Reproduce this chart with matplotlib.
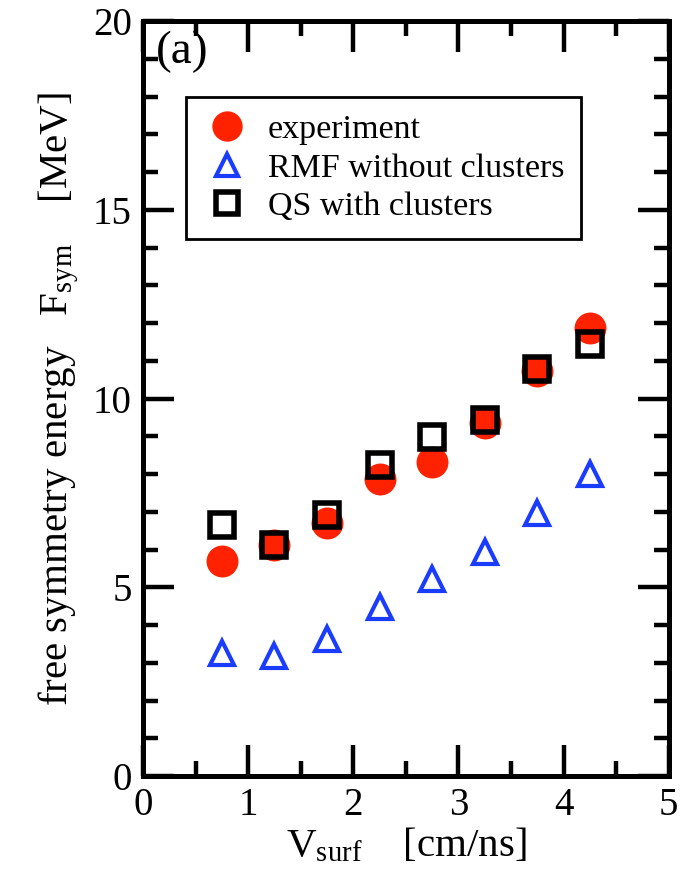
import numpy as np
import matplotlib
matplotlib.use('Agg')
import matplotlib.pyplot as plt
from matplotlib.ticker import MultipleLocator

plt.rcParams['font.family'] = 'Liberation Serif'
plt.rcParams['mathtext.fontset'] = 'custom'
plt.rcParams['mathtext.rm'] = 'Liberation Serif'

v_surf = [0.75, 1.25, 1.75, 2.25, 2.75, 3.25, 3.75, 4.25]
experiment = [5.70, 6.12, 6.70, 7.87, 8.32, 9.35, 10.73, 11.87]
rmf_no_clusters = [3.25, 3.18, 3.63, 4.47, 5.21, 5.95, 6.96, 8.0]
qs_clusters = [6.65, 6.12, 6.91, 8.24, 8.98, 9.43, 10.78, 11.44]

fig = plt.figure(figsize=(6.81, 8.83), dpi=100)
ax = fig.add_axes([0.210, 0.121, 0.772, 0.855])

ax.plot(v_surf, experiment, 'o', color='#ff2200', markersize=23,
        markeredgewidth=0, label='experiment', zorder=2)
ax.plot(v_surf, rmf_no_clusters, '^', color='#1a3cff', markersize=17,
        markerfacecolor='none', markeredgewidth=3, label='RMF without clusters', zorder=3)
ax.plot(v_surf, qs_clusters, 's', color='black', markersize=17,
        markerfacecolor='none', markeredgewidth=4, label='QS with clusters', zorder=4)

ax.set_xlim(0, 5)
ax.set_ylim(0, 20)
ax.xaxis.set_major_locator(MultipleLocator(1))
ax.xaxis.set_minor_locator(MultipleLocator(0.5))
ax.yaxis.set_major_locator(MultipleLocator(5))
ax.yaxis.set_minor_locator(MultipleLocator(1))
ax.tick_params(which='both', direction='in', top=True, right=True, width=3.2)
ax.tick_params(which='major', length=22, labelsize=28, pad=8)
ax.tick_params(which='minor', length=11)
for s in ax.spines.values():
    s.set_linewidth(3.6)

ax.set_xlabel('$\\mathregular{V_{surf}}$    [cm/ns]', fontsize=29.5, labelpad=2)
ax.set_ylabel('free symmetry energy   $\\mathregular{F_{sym}}$    [MeV]', fontsize=29.5, labelpad=9)
ax.text(0.025, 0.988, '(a)', transform=ax.transAxes, fontsize=34, va='top', ha='left')

leg = ax.legend(loc='upper left', bbox_to_anchor=(0.082, 0.899), borderaxespad=0,
                fontsize=24.5, fancybox=False, edgecolor='black', framealpha=1,
                handletextpad=0.5, borderpad=0.5, labelspacing=0.22,
                handlelength=1.4, markerscale=0.95)
leg.get_frame().set_linewidth(2)

fig.savefig('out.png', dpi=100)
